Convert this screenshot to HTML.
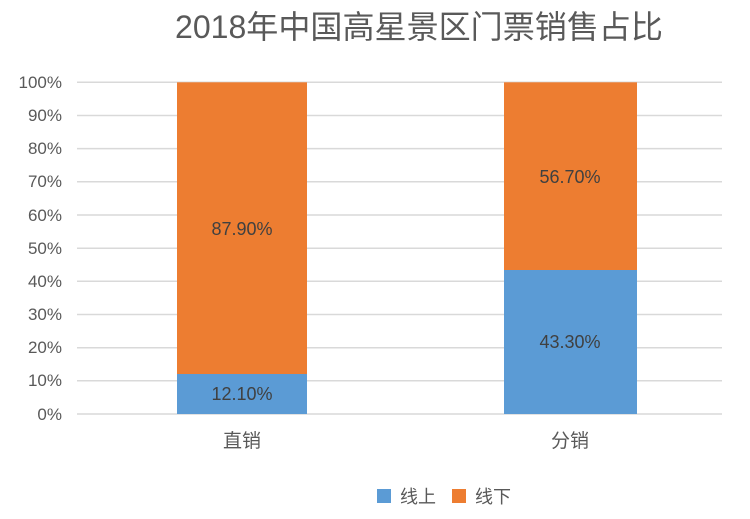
<!DOCTYPE html>
<html><head><meta charset="utf-8"><style>
html,body{margin:0;padding:0;background:#fff;}
svg{display:block;}
text{font-family:"Liberation Sans","Noto Sans CJK SC",sans-serif;fill:#595959;}
</style></head><body>
<svg width="750" height="519" viewBox="0 0 750 519" xmlns="http://www.w3.org/2000/svg">
<text x="175" y="38" font-size="32" textLength="488" lengthAdjust="spacingAndGlyphs">2018年中国高星景区门票销售占比</text>
<g stroke="#d9d9d9" stroke-width="1.5">
<line x1="77" x2="722" y1="82.3" y2="82.3"/>
<line x1="77" x2="722" y1="115.5" y2="115.5"/>
<line x1="77" x2="722" y1="148.6" y2="148.6"/>
<line x1="77" x2="722" y1="181.8" y2="181.8"/>
<line x1="77" x2="722" y1="215" y2="215"/>
<line x1="77" x2="722" y1="248.2" y2="248.2"/>
<line x1="77" x2="722" y1="281.3" y2="281.3"/>
<line x1="77" x2="722" y1="314.5" y2="314.5"/>
<line x1="77" x2="722" y1="347.7" y2="347.7"/>
<line x1="77" x2="722" y1="380.8" y2="380.8"/>
<line x1="77" x2="722" y1="414" y2="414"/>
</g>
<g font-size="17" text-anchor="end">
<text x="62" y="88">100%</text>
<text x="62" y="121">90%</text>
<text x="62" y="154">80%</text>
<text x="62" y="187">70%</text>
<text x="62" y="221">60%</text>
<text x="62" y="254">50%</text>
<text x="62" y="287">40%</text>
<text x="62" y="320">30%</text>
<text x="62" y="353">20%</text>
<text x="62" y="386">10%</text>
<text x="62" y="420">0%</text>
</g>
<rect x="177" y="82.3" width="130" height="291.7" fill="#ed7d31"/>
<rect x="177" y="374" width="130" height="40" fill="#5b9bd5"/>
<rect x="504" y="82.3" width="133" height="187.7" fill="#ed7d31"/>
<rect x="504" y="270" width="133" height="144" fill="#5b9bd5"/>
<g font-size="18" text-anchor="middle">
<text x="242" y="235" style="fill:#404040">87.90%</text>
<text x="242" y="400" style="fill:#404040">12.10%</text>
<text x="570" y="183" style="fill:#404040">56.70%</text>
<text x="570" y="348" style="fill:#404040">43.30%</text>
</g>
<g font-size="19" text-anchor="middle">
<text x="242" y="447">直销</text>
<text x="570" y="447">分销</text>
</g>
<rect x="377" y="489" width="14" height="14" fill="#5b9bd5"/>
<text x="400" y="503" font-size="18">线上</text>
<rect x="452" y="489" width="14" height="14" fill="#ed7d31"/>
<text x="475" y="503" font-size="18">线下</text>
</svg>
</body></html>
